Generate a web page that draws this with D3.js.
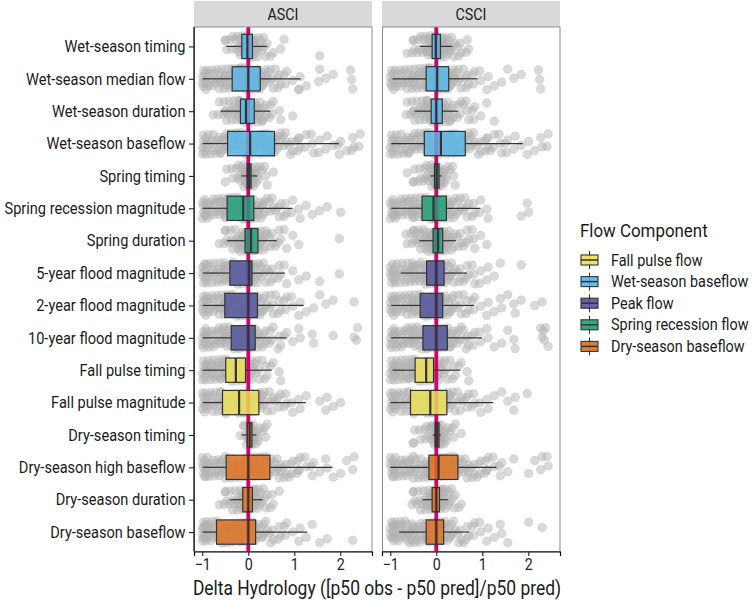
<!DOCTYPE html>
<html><head><meta charset="utf-8">
<script src="https://cdn.jsdelivr.net/npm/d3@7"></script>
<style>body{margin:0;background:#fff}svg{display:block;font-family:Roboto,"Noto Sans",sans-serif}</style>
</head><body><svg id="c" width="754" height="601"></svg>
<script>
const categories = ["Wet-season timing","Wet-season median flow","Wet-season duration","Wet-season baseflow","Spring timing","Spring recession magnitude","Spring duration","5-year flood magnitude","2-year flood magnitude","10-year flood magnitude","Fall pulse timing","Fall pulse magnitude","Dry-season timing","Dry-season high baseflow","Dry-season duration","Dry-season baseflow"];
const components = ["Fall pulse flow","Wet-season baseflow","Peak flow","Spring recession flow","Dry-season baseflow"];
const componentColors = ["#EEE257","#58B6E8","#51539B","#1F9F7B","#E0701F"];
const categoryComponent = ["Wet-season baseflow","Wet-season baseflow","Wet-season baseflow","Wet-season baseflow","Spring recession flow","Spring recession flow","Spring recession flow","Peak flow","Peak flow","Peak flow","Fall pulse flow","Fall pulse flow","Dry-season baseflow","Dry-season baseflow","Dry-season baseflow","Dry-season baseflow"];
const panels = ["ASCI","CSCI"];
const xTicks = [-1,0,1,2];
// box stats [whiskerLow, q1, median, q3, whiskerHigh]
const asciStats = [
 [-0.48,-0.14,-0.02,0.09,0.41],[-0.99,-0.35,0.0,0.26,1.14],[-0.6,-0.17,-0.05,0.13,0.48],[-0.99,-0.45,0.04,0.57,1.97],
 [-0.15,-0.02,0.02,0.06,0.2],[-0.99,-0.46,-0.11,0.12,0.96],[-0.46,-0.07,0.06,0.21,0.62],[-0.99,-0.4,0.02,0.08,0.79],
 [-0.99,-0.51,0.0,0.2,1.2],[-0.99,-0.37,0.0,0.15,0.83],[-0.99,-0.49,-0.27,-0.06,0.51],[-0.99,-0.56,-0.2,0.23,1.25],
 [-0.14,-0.02,0.03,0.08,0.18],[-0.99,-0.48,0.0,0.47,1.83],[-0.4,-0.12,0.0,0.09,0.31],[-0.99,-0.69,0.0,0.16,1.28]];
const csciStats = [
 [-0.36,-0.09,-0.01,0.09,0.35],[-0.95,-0.22,0.02,0.27,0.9],[-0.47,-0.11,0.0,0.13,0.47],[-0.98,-0.26,0.1,0.63,1.88],
 [-0.13,-0.04,0.01,0.06,0.12],[-0.98,-0.31,-0.06,0.22,0.96],[-0.37,-0.07,0.04,0.14,0.43],[-0.77,-0.21,0.0,0.17,0.67],
 [-0.98,-0.35,0.0,0.14,0.82],[-0.98,-0.29,0.0,0.24,0.99],[-0.95,-0.46,-0.22,-0.06,0.52],[-1.0,-0.56,-0.13,0.23,1.24],
 [-0.08,-0.02,0.02,0.06,0.1],[-1.0,-0.16,0.05,0.47,1.31],[-0.3,-0.09,0.0,0.07,0.25],[-0.81,-0.22,0.0,0.16,0.72]];
// site counts per 0.1-wide bin of delta, starting at -1.0 (estimated from the point clouds)
const binStart = -1.0, binWidth = 0.1;
const asciCounts = [
 [0,0,0,0,1,2,3,4,7,10,10,7,4,3,2,1,0,2,0,0,0,0,0,0,0,1],
 [8,5,5,5,5,6,6,7,8,9,9,8,7,5,4,3,3,2,2,1,1,2,1,0,0,2,1,0,1,0,0,0,3],
 [0,0,1,2,3,4,5,6,8,10,10,8,6,4,3,2,1,1,0,1],
 [8,5,5,5,5,5,5,5,5,6,6,6,5,5,5,5,4,3,3,3,3,2,2,2,1,2,1,1,1,2,1,1,2,1,2],
 [0,0,0,0,1,1,2,3,5,9,12,7,3,2,1,1],
 [9,5,5,5,6,6,7,7,8,8,8,6,5,4,3,3,2,2,2,2,1,1,1,1,0,1,0,1,0,0,1],
 [0,0,0,1,2,3,4,5,7,9,10,9,7,5,3,3,2,2,1,1,1,0,0,0,0,0,0,0,0,1],
 [9,5,5,5,6,6,6,7,7,8,8,6,4,3,3,2,2,2,1,1,1,0,1,0,0,1,0,0,0,1],
 [9,5,5,5,6,6,6,7,7,7,7,6,5,4,3,3,2,2,2,2,1,1,1,0,1,1,1,0,1,0,0,0,0,1],
 [9,5,5,5,6,6,6,7,7,8,8,6,4,3,3,2,2,2,1,1,1,1,0,1,1,0,0,0,1,0,0,0,0,3],
 [9,6,6,6,7,7,7,8,8,7,6,4,3,2,2,1,1,1],
 [9,5,5,5,5,6,6,6,7,7,7,6,5,4,3,3,2,2,2,2,1,1,1,0,0,1,1,1,1,0,1],
 [0,0,0,0,0,0,0,0,2,4,12,6,3,2,1],
 [9,5,5,5,5,5,5,5,6,6,6,6,5,5,5,4,4,3,3,3,3,2,2,2,1,1,1,1,1,0,1,1,1,1],
 [0,0,0,1,2,3,4,5,7,9,10,8,5,3,2,2,1],
 [12,7,6,6,6,6,6,6,6,6,6,5,4,4,3,2,2,2,2,1,1,1,1,1,0,1,0,1,0,0,0,0,1]];
const csciCounts = [
 [0,0,0,1,2,3,4,5,7,9,10,8,6,4,3,2,2,1],
 [8,5,5,5,5,6,6,7,8,8,8,7,6,5,4,3,3,2,2,2,1,1,1,0,1,1,1,0,1,0,0,0,3],
 [0,0,0,2,3,4,5,6,7,9,9,8,6,4,3,3,2,2,2,1,1,0,1],
 [8,5,5,5,5,5,5,5,6,6,6,6,6,5,5,5,4,4,3,3,3,3,2,2,2,2,1,1,1,1,1,1,1,1,2],
 [0,0,0,1,1,2,3,4,5,8,12,6,3,2,1],
 [9,5,5,5,6,6,6,7,7,8,8,7,6,5,4,3,3,2,2,2,1,1,0,0,0,0,0,0,1,1,1],
 [0,0,0,2,3,4,5,6,7,9,9,8,6,4,3,3,2,2,2,1,1],
 [8,5,5,5,6,6,6,7,7,8,8,6,5,4,3,3,2,2,2,2,1,1,1,1,0,0,0,0,1],
 [9,5,5,5,6,6,6,7,7,8,8,6,5,4,3,3,2,2,2,1,1,1,1,1,1,1,1,1,1,0,0,1,0,1],
 [9,5,5,5,6,6,6,7,7,8,8,6,5,4,4,3,3,2,2,2,1,1,1,0,1,1,1,1,0,0,0,0,1,4,1],
 [9,6,6,6,7,7,7,8,8,7,6,4,3,2,2,1,1,1],
 [9,5,5,5,5,6,6,6,7,7,7,6,5,4,3,3,2,2,2,2,1,1,1,0,1,1,1,1,0,1],
 [0,0,0,0,1,2,2,3,4,6,12,6,3,2,1,1],
 [9,5,5,5,5,5,5,5,6,6,6,6,5,5,5,4,4,3,3,3,3,2,2,2,1,1,1,0,0,0,1,1,1,1,2],
 [0,0,0,0,2,3,4,5,7,9,10,8,5,3,2,1],
 [10,6,6,6,6,6,6,6,7,7,7,6,5,4,3,3,2,2,2,2,1,1,1,1,1,1,0,0,0,0,1,0,0,1]];
const xTitle = "Delta Hydrology ([p50 obs - p50 pred]/p50 pred)";
const legendTitle = "Flow Component";

(function () {
const svg = d3.select("#c");
const pTop = 27, pBottom = 551.5, panelW = 178;
const panelX = [194, 382];
const color = d3.scaleOrdinal().domain(components).range(componentColors);
const y = d3.scalePoint().domain(categories).range([pTop, pBottom]).padding(0.6);
const step = y.step();
const boxH = step * 0.75;
const statsByPanel = [asciStats, csciStats];
const countsByPanel = [asciCounts, csciCounts];
const ink = "#333333";
const COND = 0.89; // emulate a condensed face by horizontal scaling
function condense(sel) {
  sel.each(function () {
    const xx = +(this.getAttribute("x") || 0);
    this.setAttribute("x", xx / COND);
    this.setAttribute("transform", `scale(${COND},1)`);
  });
}

panels.forEach((p, pi) => {
  const x0 = panelX[pi];
  const x = d3.scaleLinear().domain([-1.18, 2.69]).range([x0, x0 + panelW]);
  const g = svg.append("g");
  // strip
  g.append("rect").attr("x", x0).attr("y", 1).attr("width", panelW).attr("height", pTop - 1).attr("fill", "#D9D9D9");
  g.append("text").attr("x", x0 + panelW / 2).attr("y", 20).attr("text-anchor", "middle")
    .attr("font-size", 16).attr("fill", "#1a1a1a").text(p).call(condense);
  // points (placed within their bin, jittered within the band)
  const pts = [];
  countsByPanel[pi].forEach((arr, ci) => arr.forEach((n, b) => {
    for (let i = 0; i < n; i++) {
      const fx = ((i + 1) * 0.7548777 + b * 0.311) % 1;
      const fy = ((i + 1) * 0.5698403 + b * 0.4142 + ci * 0.137) % 1 - 0.5;
      const v = Math.min(binStart + (b + fx) * binWidth, 2.5);
      pts.push({cat: categories[ci], v, j: fy});
    }
  }));
  g.append("g").selectAll("circle").data(pts).join("circle")
    .attr("cx", d => x(d.v)).attr("cy", d => y(d.cat) + d.j * 2 * 0.34 * step)
    .attr("r", 4.4).attr("fill", "#b4b4b4").attr("fill-opacity", 0.5)
    .attr("stroke", "#a6a6a6").attr("stroke-opacity", 0.35).attr("stroke-width", 0.6);
  // zero line
  g.append("line").attr("x1", x(0)).attr("x2", x(0)).attr("y1", pTop).attr("y2", pBottom)
    .attr("stroke", "#D4006F").attr("stroke-width", 3.8);
  // boxes
  const bx = g.append("g").selectAll("g").data(statsByPanel[pi].map((s, ci) => ({cat: categories[ci], s, comp: categoryComponent[ci]}))).join("g");
  bx.append("line").attr("x1", d => x(d.s[0])).attr("x2", d => x(d.s[1])).attr("y1", d => y(d.cat)).attr("y2", d => y(d.cat)).attr("stroke", ink).attr("stroke-width", 1.2);
  bx.append("line").attr("x1", d => x(d.s[3])).attr("x2", d => x(d.s[4])).attr("y1", d => y(d.cat)).attr("y2", d => y(d.cat)).attr("stroke", ink).attr("stroke-width", 1.2);
  bx.append("rect").attr("x", d => x(d.s[1])).attr("width", d => x(d.s[3]) - x(d.s[1]))
    .attr("y", d => y(d.cat) - boxH / 2).attr("height", boxH)
    .attr("fill", d => color(d.comp)).attr("fill-opacity", 0.82).attr("stroke", ink).attr("stroke-width", 1.2);
  bx.append("line").attr("x1", d => x(d.s[2])).attr("x2", d => x(d.s[2])).attr("y1", d => y(d.cat) - boxH / 2).attr("y2", d => y(d.cat) + boxH / 2).attr("stroke", ink).attr("stroke-width", 2.2);
  // border
  g.append("rect").attr("x", x0 + 0.5).attr("y", pTop).attr("width", panelW - 0.5).attr("height", pBottom - pTop)
    .attr("fill", "none").attr("stroke", "#8c8c8c").attr("stroke-width", 1);
  // x axis
  const ax = g.append("g").attr("transform", `translate(0,${pBottom})`)
    .call(d3.axisBottom(x).tickValues(xTicks).tickSize(4.5).tickPadding(3).tickFormat(d3.format("d")));
  ax.select(".domain").attr("stroke", "#000").attr("stroke-width", 1.2);
  ax.selectAll(".tick line").attr("stroke", "#222").attr("stroke-width", 1.1);
  ax.selectAll("text").attr("font-size", 16).attr("fill", "#222").attr("font-family", "Roboto").call(condense);
  if (pi === 0) {
    const ay = g.append("g").attr("transform", `translate(${x0},0)`)
      .call(d3.axisLeft(y).tickSize(5).tickPadding(3.5));
    ay.select(".domain").attr("stroke", "#000").attr("stroke-width", 1.2).attr("d", `M0,${pTop}V${pBottom}`);
    ay.selectAll(".tick line").attr("stroke", "#222").attr("stroke-width", 1.1);
    ay.selectAll("text").attr("font-size", 16.4).attr("fill", "#1a1a1a").attr("font-family", "Roboto").call(condense);
  }
});

svg.append("text").attr("x", (panelX[0] + panelX[1] + panelW) / 2).attr("y", 595).attr("text-anchor", "middle")
  .attr("font-size", 19.6).attr("fill", "#1a1a1a").text(xTitle).call(condense);

// legend
const lg = svg.append("g").attr("transform", "translate(580,0)");
lg.append("text").attr("x", 0).attr("y", 237).attr("font-size", 19).attr("fill", "#1a1a1a").text(legendTitle).call(condense);
const li = lg.selectAll("g.item").data(components).join("g").attr("class", "item")
  .attr("transform", (d, i) => `translate(0,${260 + i * 21.6})`);
li.append("line").attr("x1", 9.5).attr("x2", 9.5).attr("y1", -9).attr("y2", 9).attr("stroke", ink).attr("stroke-width", 1.1);
li.append("rect").attr("x", 1).attr("y", -5).attr("width", 17).attr("height", 10).attr("fill", d => color(d)).attr("fill-opacity", 0.9).attr("stroke", ink).attr("stroke-width", 1.1);
li.append("line").attr("x1", 1).attr("x2", 18).attr("y1", 0).attr("y2", 0).attr("stroke", ink).attr("stroke-width", 1.5);
li.append("text").attr("x", 31).attr("y", 5.5).attr("font-size", 16.2).attr("fill", "#1a1a1a").text(d => d).call(condense);
})();
</script></body></html>
